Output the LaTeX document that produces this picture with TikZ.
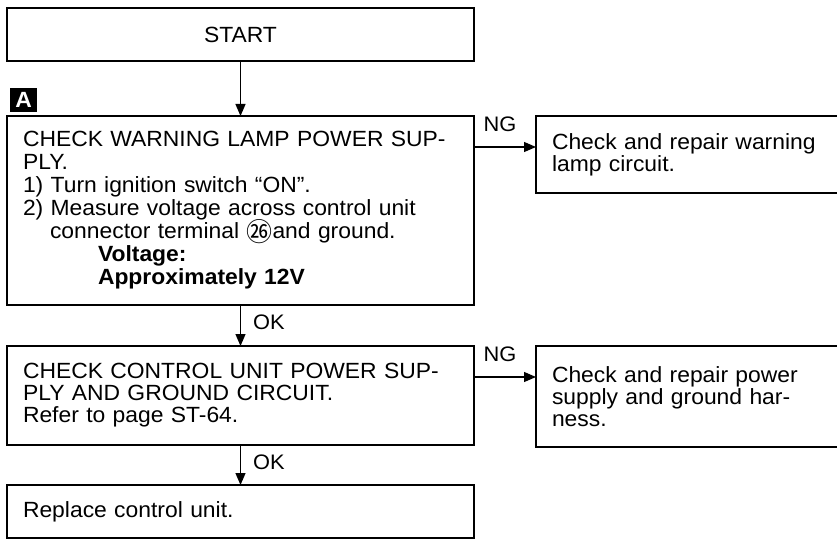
\documentclass[tikz,border=0pt]{standalone}
\usepackage{fontspec}
\setmainfont{Liberation Sans}[FakeStretch=1.04]
\newfontfamily\cjkfont{Noto Sans CJK SC}
\usetikzlibrary{arrows.meta,positioning,calc}
\newcommand{\termno}[1]{\raisebox{-2.5pt}{\smash{\fontsize{26}{26}\cjkfont #1}}}

\begin{document}
\begin{tikzpicture}[
    flowbox/.style={draw, line width=1.2pt, outer sep=0pt, inner xsep=16pt,
                    inner ysep=0pt, align=left, text width=#1,
                    font=\fontsize{22}{22}\selectfont},
    arr/.style={-{Triangle[length=12pt,width=10pt]}, line width=1.2pt},
    branchlbl/.style={font=\fontsize{21}{21}\selectfont, inner sep=0pt},
    tag/.style={fill=black, text=white, inner sep=0pt, minimum width=27pt,
                minimum height=24pt, font=\fontsize{22}{22}\selectfont\bfseries},
  ]
    \useasboundingbox (0,0) rectangle (837pt,-540pt);

    % Main column
    \node[flowbox=435pt, align=center, minimum height=53pt, anchor=north west]
      (start) at (7pt,-8pt) {START};
    \node[flowbox=435pt, minimum height=189pt, below=55pt of start,
          font=\fontsize{22}{23}\selectfont]
      (checkA) {CHECK WARNING LAMP POWER SUP-\\
                PLY.\\
                1) Turn ignition switch “ON”.\\
                2) Measure voltage across control unit\\
                \hspace*{27pt}connector terminal \termno{㉖}and ground.\\
                \hspace*{75pt}\textbf{Voltage:}\\
                \hspace*{75pt}\textbf{Approximately 12V}};
    \node[flowbox=435pt, minimum height=99pt, below=41pt of checkA]
      (checkB) {CHECK CONTROL UNIT POWER SUP-\\
                PLY AND GROUND CIRCUIT.\\
                Refer to page ST-64.};
    \node[flowbox=435pt, minimum height=53pt, below=40pt of checkB]
      (replace) {Replace control unit.};

    % NG column
    \node[flowbox=273pt, minimum height=77pt, right=62pt of checkA.north east,
          anchor=north west]
      (repairA) {Check and repair warning\\
                 lamp circuit.};
    \node[flowbox=273pt, minimum height=101pt, right=62pt of checkB.north east,
          anchor=north west]
      (repairB) {Check and repair power\\
                 supply and ground har-\\
                 ness.};

    % Step tag
    \node[tag, anchor=south west] (tagA) at ([xshift=3pt,yshift=4pt]checkA.north west) {A};

    % OK arrows
    \draw[arr] (start) -- (checkA);
    \draw[arr] (checkA) -- node[branchlbl, pos=0.42, anchor=west, xshift=12pt] {OK} (checkB);
    \draw[arr] (checkB) -- node[branchlbl, pos=0.42, anchor=west, xshift=12pt] {OK} (replace);

    % NG arrows
    \draw[arr] ([yshift=-31pt]checkA.north east) --
      node[branchlbl, pos=0.42, above=15pt] {NG} ([yshift=-31pt]repairA.north west);
    \draw[arr] ([yshift=-31pt]checkB.north east) --
      node[branchlbl, pos=0.42, above=15pt] {NG} ([yshift=-31pt]repairB.north west);
  \end{tikzpicture}
\end{document}
